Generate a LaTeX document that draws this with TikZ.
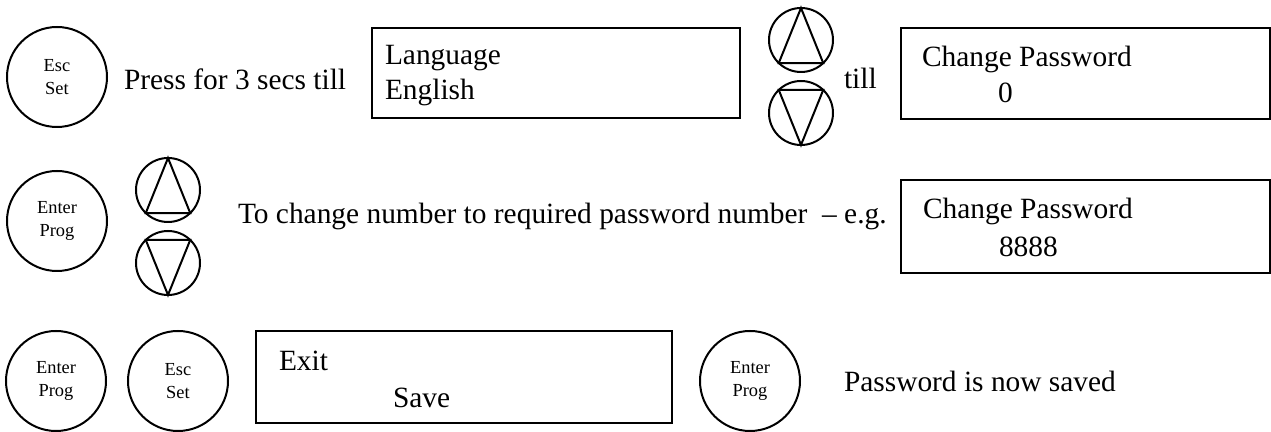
\documentclass[tikz,border=0pt]{standalone}
\usepackage{fontspec}
\setmainfont{Liberation Serif}
\newcommand{\bigtxt}{\fontsize{14.7}{18}\selectfont}
\newcommand{\keytxt}{\fontsize{9.2}{11.5}\selectfont}

\begin{document}
\begin{tikzpicture}[x=0.5pt, y=-0.5pt, line width=1pt,
    keycirc/.style={draw, circle, minimum size=50pt, inner sep=0pt, outer sep=0pt, align=center, font=\keytxt},
    arrowcirc/.style={draw, circle, minimum size=32pt, inner sep=0pt, outer sep=0pt},
    lcdbox/.style={draw, rectangle, anchor=north west, inner sep=0pt, outer sep=0pt},
    txt/.style={anchor=base west, inner sep=0pt, font=\bigtxt}]
    \useasboundingbox (0,0) rectangle (1271,432);

    % row 1
    \node[keycirc] (esc1) at (57,77) {Esc\\Set};
    \node[txt] (press) at (123,90) {Press for 3 secs till};
    \node[lcdbox, minimum width=184pt, minimum height=45pt] (lang) at (372,28) {};
    \node[txt] (langA) at (384,65) {Language};
    \node[txt] (langB) at (384,100) {English};
    \node[txt] (till) at (843,89) {till};
    \node[lcdbox, minimum width=184.5pt, minimum height=45.5pt] (pwd0) at (901,28) {};
    \node[txt] (pwd0A) at (921,67) {Change Password};
    \node[txt] (pwd0B) at (997,103) {0};

    % row 2
    \node[keycirc] (enter1) at (57,221) {Enter\\Prog};
    \node[txt] (chg) at (237,224) {To change number to required password number\ \ -- e.g.};
    \node[lcdbox, minimum width=184.5pt, minimum height=46.5pt] (pwd8) at (901,180) {};
    \node[txt] (pwd8A) at (922,219) {Change Password};
    \node[txt] (pwd8B) at (998,257) {8888};

    % up / down keys
    \foreach \nm/\cx/\cy in {up1/801/40, up2/168/190} {
      \node[arrowcirc] (\nm) at (\cx,\cy) {};
      \draw (\nm.90) -- (\nm.-46) -- (\nm.226) -- cycle;
    }
    \foreach \nm/\cx/\cy in {dn1/801/113, dn2/168/263} {
      \node[arrowcirc] (\nm) at (\cx,\cy) {};
      \draw (\nm.270) -- (\nm.46) -- (\nm.134) -- cycle;
    }

    % row 3
    \node[keycirc] (enter2) at (56,381) {Enter\\Prog};
    \node[keycirc] (esc2) at (178,381) {Esc\\Set};
    \node[lcdbox, minimum width=208pt, minimum height=46pt] (exit) at (256,331) {};
    \node[txt] (exitA) at (278,371) {Exit};
    \node[txt] (exitB) at (392,408) {Save};
    \node[keycirc] (enter3) at (750,381) {Enter\\Prog};
    \node[txt] (saved) at (843,392) {Password is now saved};
\end{tikzpicture}
\end{document}
